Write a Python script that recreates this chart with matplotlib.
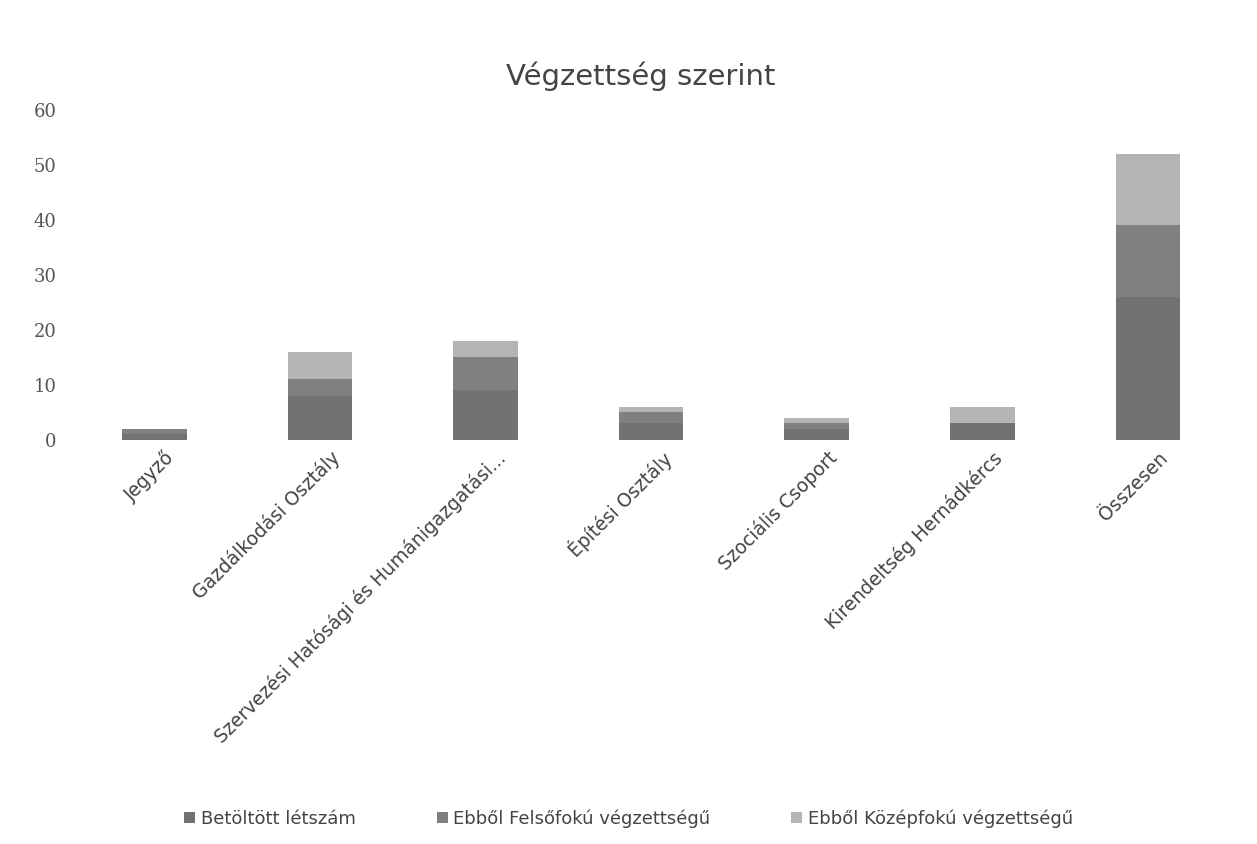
import matplotlib.pyplot as plt
import numpy as np

categories = ['Jegyző', 'Gazdálkodási Osztály',
              'Szervezési Hatósági és Humánigazgatási...',
              'Építési Osztály', 'Szociális Csoport',
              'Kirendeltség Hernádkércs', 'Összesen']
betoltott = [1, 8, 9, 3, 2, 3, 26]
felsofoku = [1, 3, 6, 2, 1, 0, 13]
kozepfoku = [0, 5, 3, 1, 1, 3, 13]
series_names = ['Betöltött létszám', 'Ebből Felsőfokú végzettségű',
                'Ebből Középfokú végzettségű']
y_ticks = [0, 10, 20, 30, 40, 50, 60]

colors = ['#727272', '#808080', '#b4b4b4']
text_col = '#555555'

fig = plt.figure(figsize=(12.57, 8.44), dpi=100)
ax = fig.add_axes([0.057, 0.479, 0.922, 0.391])

x = np.arange(len(categories))
width = 0.39
bottom = np.zeros(len(categories))
for vals, name, col in zip([betoltott, felsofoku, kozepfoku], series_names, colors):
    ax.bar(x, vals, width, bottom=bottom, color=col, label=name)
    bottom += np.array(vals)

ax.set_xlim(-0.5, len(categories) - 0.5)
ax.set_ylim(0, 60)
ax.set_yticks(y_ticks)
ax.set_yticklabels([str(t) for t in y_ticks], family='DejaVu Serif',
                   fontsize=13, color=text_col)
ax.set_xticks(x + 0.06)
ax.set_xticklabels(categories, rotation=45, ha='right', rotation_mode='anchor',
                   fontsize=13.5, color='#444444')
ax.tick_params(axis='both', length=0)
ax.tick_params(axis='y', pad=11)
ax.tick_params(axis='x', pad=6)
for s in ax.spines.values():
    s.set_visible(False)

fig.text(0.51, 0.91, 'Végzettség szerint', ha='center', va='center',
         fontsize=21, color='#444444')

fig.legend(loc='lower center', bbox_to_anchor=(0.5, 0.0), ncol=3,
           frameon=False, fontsize=13, handlelength=0.6, handleheight=0.6,
           handletextpad=0.3, columnspacing=4.5, labelcolor='#444444')

fig.savefig('out.png', dpi=100)
